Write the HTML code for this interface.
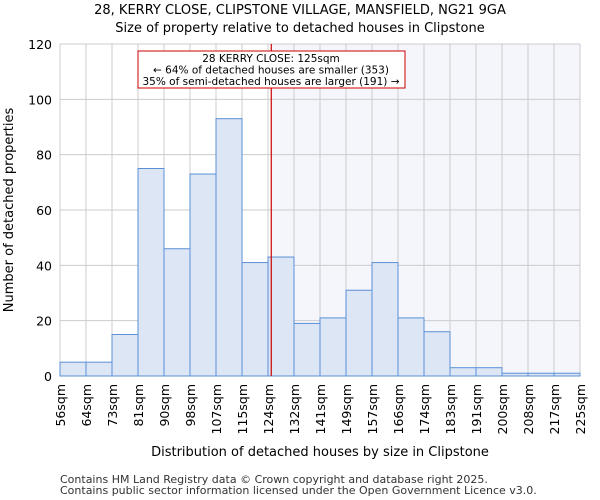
<!DOCTYPE html>
<html><head><meta charset="utf-8"><style>body{margin:0;background:#fff}svg{display:block;font-family:"DejaVu Sans","Liberation Sans",sans-serif}</style></head>
<body>
<svg id="chart" width="600" height="500" viewBox="0 0 600 500">
<text x="300" y="14" text-anchor="middle" font-size="13">28, KERRY CLOSE, CLIPSTONE VILLAGE, MANSFIELD, NG21 9GA</text>
<text x="300" y="32" text-anchor="middle" font-size="13">Size of property relative to detached houses in Clipstone</text>
<g id="plot"></g>
<text x="320" y="456" text-anchor="middle" font-size="13">Distribution of detached houses by size in Clipstone</text>
<text transform="translate(13,210) rotate(-90)" text-anchor="middle" font-size="13">Number of detached properties</text>
<text x="60" y="483" font-size="11" fill="#333">Contains HM Land Registry data © Crown copyright and database right 2025.</text>
<text x="60" y="494" font-size="11" fill="#333">Contains public sector information licensed under the Open Government Licence v3.0.</text>
</svg>
<script>
const binLabels=["56sqm","64sqm","73sqm","81sqm","90sqm","98sqm","107sqm","115sqm","124sqm","132sqm","141sqm","149sqm","157sqm","166sqm","174sqm","183sqm","191sqm","200sqm","208sqm","217sqm","225sqm"];
const binEdges=[56,64,73,81,90,98,107,115,124,132,141,149,157,166,174,183,191,200,208,217,225];
const counts=[5,5,15,75,46,73,93,41,43,19,21,31,41,21,16,3,3,1,1,1];
const yTicks=[0,20,40,60,80,100,120];
const markerValue=125;
const L=60,R=580,T=44,B=376,yMax=120;
const n=counts.length,bw=(R-L)/n;
const ys=v=>B-(v/yMax)*(B-T);
const xi=i=>L+i*bw;
function xv(v){for(let i=0;i<binEdges.length-1;i++){if(v<=binEdges[i+1])return xi(i)+bw*(v-binEdges[i])/(binEdges[i+1]-binEdges[i]);}return R;}
const g=document.getElementById('plot');const NS="http://www.w3.org/2000/svg";
function el(t,a){const e=document.createElementNS(NS,t);for(const k in a)e.setAttribute(k,a[k]);g.appendChild(e);return e;}
const mx=xv(markerValue);
let e=el('rect',{x:mx,y:T,width:R-mx,height:B-T,fill:"#f4f6fc"});


for(let i=0;i<=n;i++){e=el('line',{x1:xi(i),x2:xi(i),y1:T,y2:B,stroke:"#ccc","stroke-width":1});

}
yTicks.forEach(t=>{e=el('line',{x1:L,x2:R,y1:ys(t),y2:ys(t),stroke:"#ccc","stroke-width":1});


e=el('text',{x:L-8,y:ys(t)+5,"text-anchor":"end","font-size":12.5});e.textContent=t;

});
counts.forEach((c,i)=>{e=el('rect',{x:xi(i),y:ys(c),width:bw,height:B-ys(c),fill:"#dce6f5",stroke:"#5b8fd6","stroke-width":1});

});
binLabels.forEach((lb,i)=>{const x=xi(i);e=el('text',{transform:`translate(${x+5},${B+8}) rotate(-90)`,"text-anchor":"end","font-size":12.5});e.textContent=lb;

});
e=el('line',{x1:mx,x2:mx,y1:T,y2:B,stroke:"#cc0000","stroke-width":1.2});


e=el('rect',{x:138,y:51,width:267,height:37,fill:"#fff",stroke:"#cc0000","stroke-width":1});


["28 KERRY CLOSE: 125sqm","← 64% of detached houses are smaller (353)","35% of semi-detached houses are larger (191) →"].forEach((s,k)=>{e=el('text',{x:271,y:62+k*11.5,"text-anchor":"middle","font-size":10.5});e.textContent=s;

});
</script>
</body></html>
